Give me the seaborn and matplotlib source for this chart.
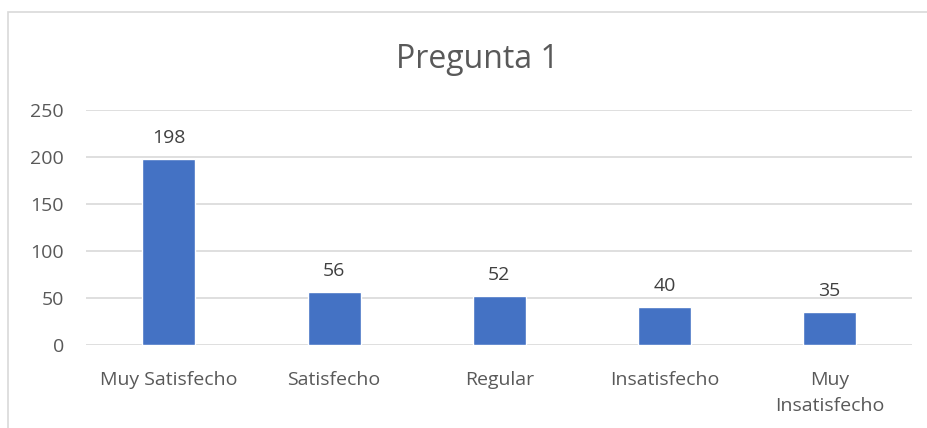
import pandas as pd
import seaborn as sns
import matplotlib.pyplot as plt
from matplotlib.patches import Rectangle

categories = ["Muy Satisfecho", "Satisfecho", "Regular", "Insatisfecho", "Muy Insatisfecho"]
tick_labels = ["Muy Satisfecho", "Satisfecho", "Regular", "Insatisfecho", "Muy\nInsatisfecho"]
values = [198, 56, 52, 40, 35]

df = pd.DataFrame({"respuesta": categories, "n": values})

sns.set_theme(style="white")
plt.rcParams["font.family"] = ["Open Sans", "DejaVu Sans"]
txt = "#595959"

fig = plt.figure(figsize=(9.28, 4.28), dpi=100)
ax = fig.add_axes([0.093, 0.194, 0.89, 0.549])

# chart frame like the spreadsheet export
fig.patches.append(Rectangle((8 / 928, -0.1), 1.2, 1 - 12 / 428 + 0.1, transform=fig.transFigure,
                             fill=False, edgecolor="#D9D9D9", linewidth=1.2, zorder=0))

sns.barplot(data=df, x="respuesta", y="n", color="#4472C4", width=0.32, saturation=1, ax=ax, zorder=3)

ax.set_ylim(0, 250)
ax.set_yticks(range(0, 251, 50))
ax.yaxis.grid(True, color="#D9D9D9", linewidth=1.2, zorder=0)
ax.set_axisbelow(True)
for s in ax.spines.values():
    s.set_visible(False)
ax.set_xlabel("")
ax.set_ylabel("")
ax.set_xticks(range(len(tick_labels)))
ax.set_xticklabels(tick_labels, color=txt, fontsize=14, linespacing=1.55)
ax.tick_params(axis="y", labelcolor=txt, labelsize=14, length=0, pad=16)
ax.tick_params(axis="x", length=0, pad=19)

for i, v in enumerate(values):
    ax.text(i, v + 13, str(v), ha="center", va="bottom", fontsize=14, color="#404040")

fig.text(0.515, 0.862, "Pregunta 1", ha="center", va="center", fontsize=23, color=txt)

fig.savefig("out.png", dpi=100, facecolor="white")
